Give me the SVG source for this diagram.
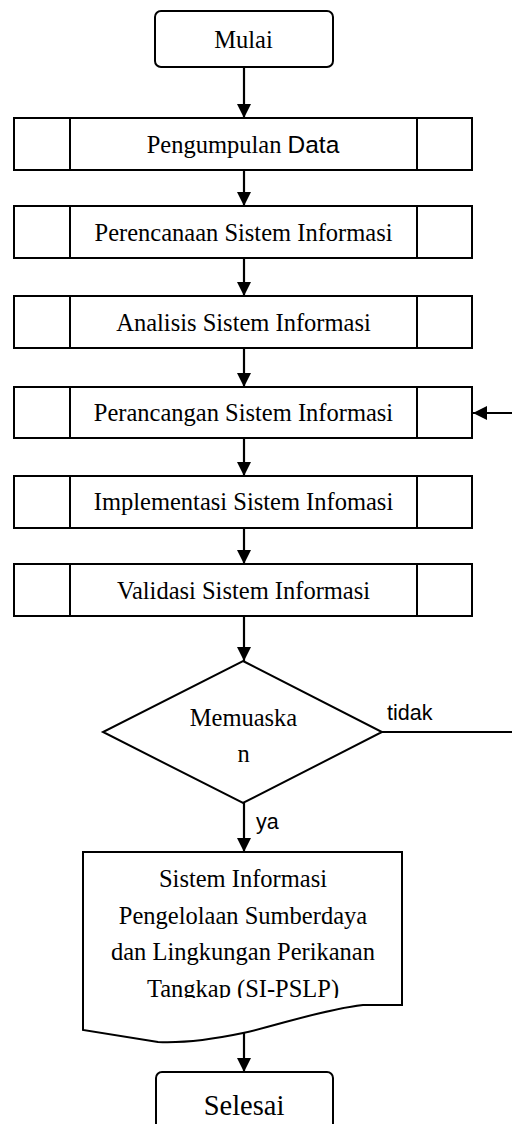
<svg xmlns="http://www.w3.org/2000/svg" width="512" height="1124" viewBox="0 0 512 1124">
<defs>
<style>
.s{fill:#fff;stroke:#000;stroke-width:2}
.ln{fill:none;stroke:#000;stroke-width:2}
.c{stroke:#000;stroke-width:2.2;fill:none;marker-end:url(#ah)}
.t{font-family:"Liberation Serif","DejaVu Serif",serif;font-size:24.5px;fill:#000;text-anchor:middle}
.big{font-size:28.5px}
.l{font-family:"Liberation Sans","DejaVu Sans",sans-serif;font-size:21.5px;fill:#000}
</style>
<marker id="ah" viewBox="0 0 14 14" markerWidth="14" markerHeight="14" refX="14" refY="7" orient="auto" markerUnits="userSpaceOnUse">
<path d="M0,0 L14,7 L0,14 z" fill="#000"/>
</marker>
<clipPath id="docclip"><rect x="80" y="850" width="330" height="148"/></clipPath>
</defs>

<g id="connectors">
<line class="c" x1="244" y1="67" x2="244" y2="118"/>
<line class="c" x1="244" y1="170" x2="244" y2="206"/>
<line class="c" x1="244" y1="258" x2="244" y2="296"/>
<line class="c" x1="244" y1="348" x2="244" y2="387"/>
<line class="c" x1="244" y1="438" x2="244" y2="476"/>
<line class="c" x1="244" y1="528" x2="244" y2="564"/>
<line class="c" x1="244" y1="616" x2="244" y2="661"/>
<line class="c" x1="244" y1="803" x2="244" y2="852"/>
<line class="c" x1="244" y1="1032" x2="244" y2="1072"/>
<path class="c" d="M382,732 H515 V413 H473"/>
<text class="l" x="387" y="720">tidak</text>
<text class="l" x="256" y="829">ya</text>
</g>

<g id="mulai">
<rect class="s" x="155" y="11" width="178" height="56" rx="6"/>
<text class="t" x="243.5" y="47.5">Mulai</text>
</g>

<g id="p1">
<rect class="s" x="14" y="118" width="458" height="52"/>
<line class="ln" x1="70" y1="118" x2="70" y2="170"/>
<line class="ln" x1="417" y1="118" x2="417" y2="170"/>
<text class="t" x="243" y="153.3">Pengumpulan <tspan font-family="Liberation Sans, DejaVu Sans, sans-serif">Data</tspan></text>
</g>

<g id="p2">
<rect class="s" x="14" y="206" width="458" height="52"/>
<line class="ln" x1="70" y1="206" x2="70" y2="258"/>
<line class="ln" x1="417" y1="206" x2="417" y2="258"/>
<text class="t" x="243.5" y="240.7">Perencanaan Sistem Informasi</text>
</g>

<g id="p3">
<rect class="s" x="14" y="296" width="458" height="52"/>
<line class="ln" x1="70" y1="296" x2="70" y2="348"/>
<line class="ln" x1="417" y1="296" x2="417" y2="348"/>
<text class="t" x="243.5" y="330.7">Analisis Sistem Informasi</text>
</g>

<g id="p4">
<rect class="s" x="14" y="387" width="458" height="51"/>
<line class="ln" x1="70" y1="387" x2="70" y2="438"/>
<line class="ln" x1="417" y1="387" x2="417" y2="438"/>
<text class="t" x="243.5" y="420.5">Perancangan Sistem Informasi</text>
</g>

<g id="p5">
<rect class="s" x="14" y="476" width="458" height="52"/>
<line class="ln" x1="70" y1="476" x2="70" y2="528"/>
<line class="ln" x1="417" y1="476" x2="417" y2="528"/>
<text class="t" x="243.5" y="510">Implementasi Sistem Infomasi</text>
</g>

<g id="p6">
<rect class="s" x="14" y="564" width="458" height="52"/>
<line class="ln" x1="70" y1="564" x2="70" y2="616"/>
<line class="ln" x1="417" y1="564" x2="417" y2="616"/>
<text class="t" x="243.5" y="599.3">Validasi Sistem Informasi</text>
</g>

<g id="decision">
<polygon class="s" points="243,661 382,732 243,803 103,732"/>
<text class="t" x="243.5" y="726">Memuaska</text>
<text class="t" x="243.5" y="761.7">n</text>
</g>

<g id="output">
<path class="s" d="M83,852 H402 V1005 H363 C320,1010 280,1025 243,1033 C210,1040 180,1043 158,1042 L83,1030 Z"/>
<g clip-path="url(#docclip)">
<text class="t" x="243" y="886.7">Sistem Informasi</text>
<text class="t" x="243" y="923.5">Pengelolaan Sumberdaya</text>
<text class="t" x="243" y="960">dan Lingkungan Perikanan</text>
<text class="t" x="243" y="996.7">Tangkap (SI-PSLP)</text>
</g>
</g>

<g id="selesai">
<rect class="s" x="156" y="1072" width="177" height="70" rx="6"/>
<text class="t big" x="244" y="1115">Selesai</text>
</g>
</svg>
